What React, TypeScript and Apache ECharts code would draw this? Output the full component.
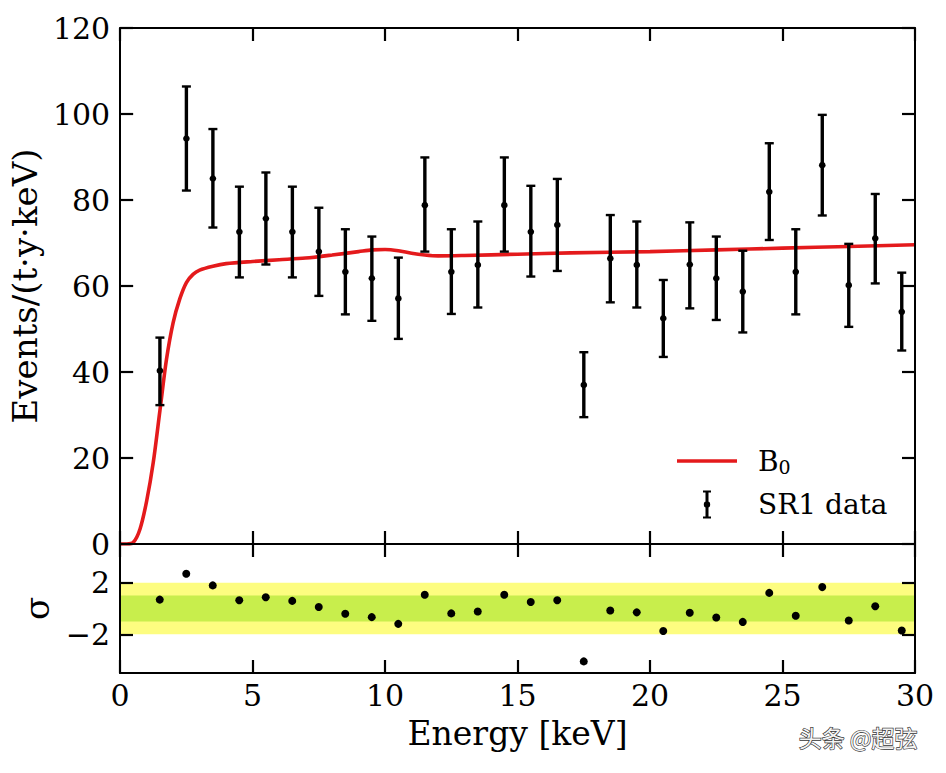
import React, { useEffect, useRef } from 'react';
import * as echarts from 'echarts';

const energy = [1.5, 2.5, 3.5, 4.5, 5.5, 6.5, 7.5, 8.5, 9.5, 10.5, 11.5, 12.5, 13.5, 14.5, 15.5, 16.5, 17.5, 18.5, 19.5, 20.5, 21.5, 22.5, 23.5, 24.5, 25.5, 26.5, 27.5, 28.5, 29.5];
const counts = [40.3, 94.3, 85.0, 72.6, 75.7, 72.6, 68.0, 63.3, 61.8, 57.1, 78.8, 63.3, 64.9, 78.8, 72.6, 74.2, 37.0, 66.4, 64.9, 52.5, 65.0, 61.8, 58.7, 81.9, 63.3, 88.1, 60.2, 71.1, 54.0];
const lower = [32.3, 82.2, 73.6, 62.0, 65.0, 62.0, 57.7, 53.4, 51.9, 47.7, 68.0, 53.5, 55.0, 68.0, 62.2, 63.5, 29.5, 56.2, 55.0, 43.5, 54.8, 52.1, 49.2, 70.7, 53.4, 76.4, 50.5, 60.6, 45.0];
const upper = [48.0, 106.4, 96.5, 83.1, 86.4, 83.1, 78.2, 73.2, 71.5, 66.6, 89.9, 73.2, 75.0, 89.9, 83.3, 84.9, 44.6, 76.5, 75.0, 61.4, 74.8, 71.5, 68.2, 93.2, 73.2, 99.8, 69.8, 81.4, 63.1];
const residuals = [0.69, 2.7, 1.79, 0.64, 0.87, 0.59, 0.12, -0.41, -0.67, -1.19, 1.06, -0.38, -0.23, 1.06, 0.51, 0.64, -4.1, -0.15, -0.3, -1.74, -0.33, -0.7, -1.04, 1.21, -0.56, 1.66, -0.93, 0.17, -1.71];

const b0Energy = [0, 0.25, 0.5, 0.75, 1.0, 1.25, 1.5, 1.75, 2.0, 2.25, 2.5, 2.75, 3.0, 3.5, 4, 5, 6, 7, 8, 9, 9.5, 10, 10.5, 11, 11.5, 12, 13, 15, 17, 20, 22.5, 25, 27.5, 30];
const b0Rate = [0, 0, 0.4, 3.5, 10, 19, 31, 43, 51.5, 57, 60.8, 62.7, 63.7, 64.6, 65.2, 65.7, 66.1, 66.5, 67.2, 68.0, 68.4, 68.5, 68.2, 67.6, 67.2, 67.0, 67.1, 67.4, 67.7, 68.0, 68.4, 68.8, 69.2, 69.6];

const bandLow = [-2, -1];
const bandHigh = [2, 1];
const bandColors = ['#fdfd80', '#c8ee4c'];

const xTicks = [0, 5, 10, 15, 20, 25, 30];
const yTicksMain = [0, 20, 40, 60, 80, 100, 120];
const sigmaTicks = [-2, 2];

const FONT = 'DejaVu Serif';
const minus = (v: number) => (v < 0 ? '\u2212' + Math.abs(v) : String(v));

export default function App() {
  const ref = useRef<HTMLDivElement>(null);
  useEffect(() => {
    document.body.style.margin = '0';
    const chart = echarts.init(ref.current!, null, { renderer: 'svg' });
    const axisLine = { show: true, onZero: false, lineStyle: { color: '#000', width: 2 } };
    const tick = (values: number[]) => ({
      show: true,
      inside: true,
      length: 13,
      lineStyle: { color: '#000', width: 2.2 },
      customValues: values,
    });
    const xBase = (grid: number, pos: 'top' | 'bottom', labels: boolean) => ({
      type: 'value',
      gridIndex: grid,
      position: pos,
      min: 0,
      max: 30,
      interval: 5,
      z: 10,
      axisLine,
      axisTick: tick(xTicks),
      splitLine: { show: false },
      axisLabel: labels
        ? { show: true, customValues: xTicks, color: '#000', fontFamily: FONT, fontSize: 30, margin: 7 }
        : { show: false },
    });
    const yBase = (grid: number, pos: 'left' | 'right', min: number, max: number, ticks: number[]) => ({
      type: 'value',
      gridIndex: grid,
      position: pos,
      min,
      max,
      z: 10,
      axisLine,
      axisTick: tick(ticks),
      splitLine: { show: false },
      axisLabel: { show: false },
    });
    const option: any = {
      animation: false,
      backgroundColor: '#fff',
      grid: [
        { left: 120, top: 28, width: 795, height: 516 },
        { left: 120, top: 544, width: 795, height: 129 },
      ],
      xAxis: [
        xBase(0, 'bottom', false),
        xBase(0, 'top', false),
        {
          ...xBase(1, 'bottom', true),
          name: 'Energy [keV]',
          nameLocation: 'middle',
          nameGap: 44,
          nameTextStyle: { color: '#000', fontFamily: FONT, fontSize: 33 },
        },
        xBase(1, 'top', false),
      ],
      yAxis: [
        {
          ...yBase(0, 'left', 0, 120, yTicksMain),
          axisLabel: { show: true, color: '#000', fontFamily: FONT, fontSize: 30, margin: 10, customValues: yTicksMain },
          name: 'Events/(t\u00b7y\u00b7keV)',
          nameLocation: 'middle',
          nameRotate: 90,
          nameGap: 70,
          nameTextStyle: { color: '#000', fontFamily: FONT, fontSize: 34 },
        },
        yBase(0, 'right', 0, 120, yTicksMain),
        {
          ...yBase(1, 'left', -5, 5, sigmaTicks),
          axisLabel: {
            show: true,
            color: '#000',
            fontFamily: FONT,
            fontSize: 30,
            margin: 10,
            customValues: sigmaTicks,
            formatter: (v: number) => minus(v),
          },
          name: '\u03c3',
          nameLocation: 'middle',
          nameRotate: 90,
          nameGap: 66,
          nameTextStyle: { color: '#000', fontFamily: FONT, fontSize: 34 },
        },
        yBase(1, 'right', -5, 5, sigmaTicks),
      ],
      legend: {
        orient: 'vertical',
        left: 677,
        top: 447,
        padding: 0,
        itemGap: 14,
        itemWidth: 60,
        itemHeight: 28,
        data: [
          { name: 'B0', icon: 'path://M0,0H60V3.4H0Z' },
          {
            name: 'SR1 data',
            icon: 'path://M0,0H8V2H5.5V26H8V28H0V26H2.5V2H0Z M0.8,14a3.2,3.2 0 1,1 6.4,0a3.2,3.2 0 1,1 -6.4,0Z',
          },
        ],
        formatter: (name: string) => (name === 'B0' ? '{sp|}{b|B}{s|0}' : '{sp|}{b|SR1 data}'),
        textStyle: {
          color: '#000',
          rich: {
            sp: { width: 16 },
            b: { fontFamily: FONT, fontSize: 28, color: '#000' },
            s: { fontFamily: FONT, fontSize: 19, color: '#000', padding: [12, 0, 0, 0] },
          },
        },
      },
      series: [
        {
          name: 'B0',
          type: 'line',
          xAxisIndex: 0,
          yAxisIndex: 0,
          data: b0Energy.map((e, i) => [e, b0Rate[i]]),
          showSymbol: false,
          symbol: 'none',
          smooth: 0.3,
          lineStyle: { color: '#e41a1c', width: 3.6 },
          itemStyle: { color: '#e41a1c' },
          z: 2,
        },
        {
          name: 'SR1 data',
          type: 'custom',
          xAxisIndex: 0,
          yAxisIndex: 0,
          itemStyle: { color: '#000' },
          encode: { x: 0, y: [1, 2, 3] },
          data: energy.map((e, i) => [e, counts[i], lower[i], upper[i]]),
          z: 3,
          renderItem: (params: any, api: any) => {
            const x = api.value(0);
            const mid = api.coord([x, api.value(1)]);
            const lo = api.coord([x, api.value(2)]);
            const hi = api.coord([x, api.value(3)]);
            const cw = 4.5;
            const st = { stroke: '#000', lineWidth: 3.4 };
            return {
              type: 'group',
              children: [
                { type: 'line', shape: { x1: hi[0], y1: hi[1], x2: lo[0], y2: lo[1] }, style: st },
                { type: 'line', shape: { x1: hi[0] - cw, y1: hi[1], x2: hi[0] + cw, y2: hi[1] }, style: { stroke: '#000', lineWidth: 2.4 } },
                { type: 'line', shape: { x1: lo[0] - cw, y1: lo[1], x2: lo[0] + cw, y2: lo[1] }, style: { stroke: '#000', lineWidth: 2.4 } },
                { type: 'circle', shape: { cx: mid[0], cy: mid[1], r: 3.3 }, style: { fill: '#000' } },
              ],
            };
          },
        },
        {
          name: 'bands',
          type: 'custom',
          xAxisIndex: 2,
          yAxisIndex: 2,
          silent: true,
          z: -1,
          encode: { x: -1, y: [0, 1] },
          data: bandLow.map((l, i) => [l, bandHigh[i], i]),
          renderItem: (params: any, api: any) => {
            const i = api.value(2);
            const a = api.coord([0, api.value(1)]);
            const b = api.coord([30, api.value(0)]);
            return {
              type: 'rect',
              shape: { x: a[0], y: a[1], width: b[0] - a[0], height: b[1] - a[1] },
              style: { fill: bandColors[i] },
            };
          },
        },
        {
          name: 'residual',
          type: 'scatter',
          xAxisIndex: 2,
          yAxisIndex: 2,
          data: energy.map((e, i) => [e, residuals[i]]),
          symbolSize: 8,
          itemStyle: { color: '#000', opacity: 1 },
          z: 3,
        },
      ],
      graphic: [
        {
          type: 'text',
          left: 798,
          top: 725,
          style: {
            text: '头条 @超弦',
            fontFamily: 'Noto Sans CJK SC',
            fontSize: 23,
            fill: '#f4f4f4',
            stroke: '#333',
            lineWidth: 1.3,
          },
        },
      ],
    };
    chart.setOption(option);
    return () => chart.dispose();
  }, []);
  return <div ref={ref} style={{ width: 946, height: 773 }} />;
}
